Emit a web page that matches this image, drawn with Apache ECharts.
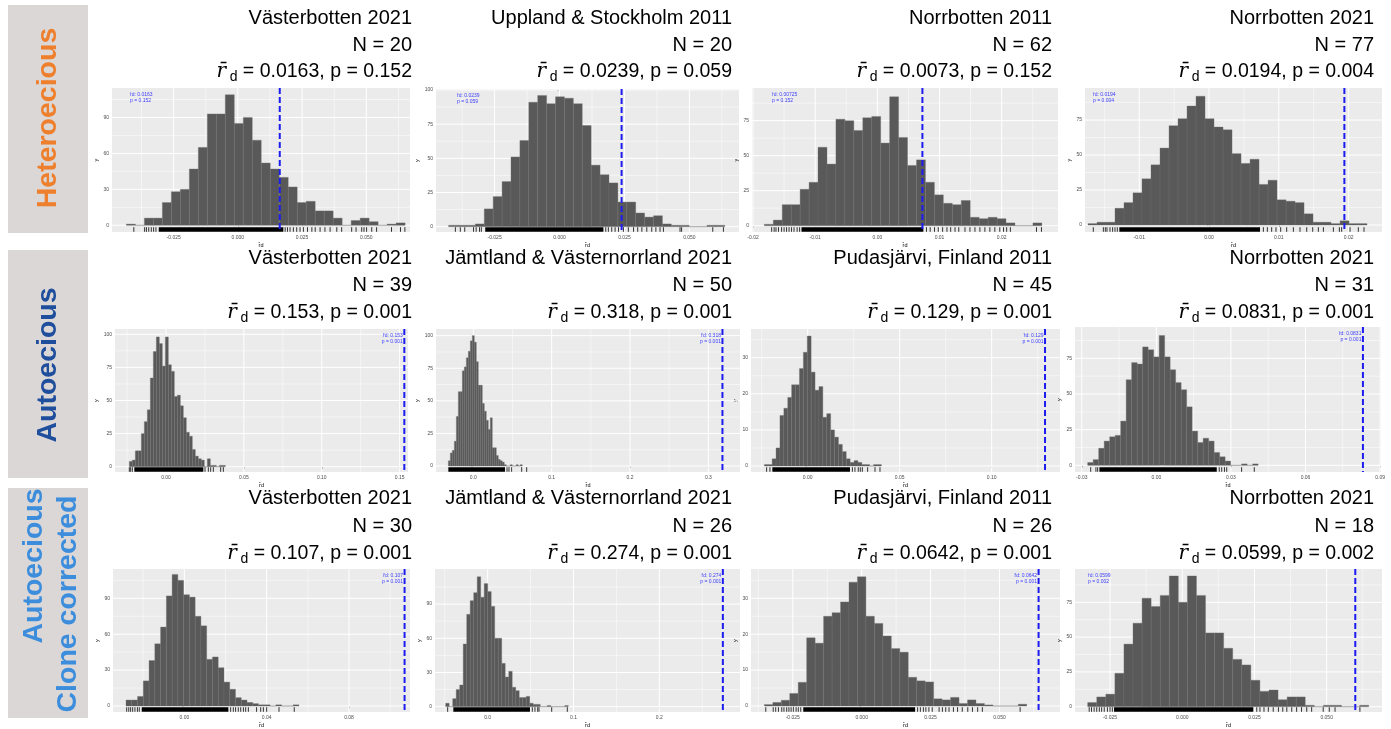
<!DOCTYPE html>
<html><head><meta charset="utf-8">
<script src="https://cdn.jsdelivr.net/npm/echarts@6/dist/echarts.min.js"></script>
<style>html,body{margin:0;padding:0;background:#fff}#c{width:1391px;height:729px}</style>
</head><body><div id="c"></div>
<script>
// ---------------- DATA ----------------
const rowLabels = ['Heteroecious', 'Autoecious', 'Autoecious', 'Clone corrected'];
const regions = ['Västerbotten 2021','Uppland & Stockholm 2011','Norrbotten 2011','Norrbotten 2021',
  'Västerbotten 2021','Jämtland & Västernorrland 2021','Pudasjärvi, Finland 2011','Norrbotten 2021',
  'Västerbotten 2021','Jämtland & Västernorrland 2021','Pudasjärvi, Finland 2011','Norrbotten 2021'];
const sampleN = [20,20,62,77,39,50,45,31,30,26,26,18];
const rdTitle = ['0.0163','0.0239','0.0073','0.0194','0.153','0.318','0.129','0.0831','0.107','0.274','0.0642','0.0599'];
const rdLabel = ['0.0163','0.0239','0.00725','0.0194','0.153','0.318','0.129','0.0831','0.107','0.274','0.0642','0.0599'];
const rdObserved = [0.0163,0.0239,0.00725,0.0194,0.153,0.318,0.129,0.0831,0.107,0.274,0.0642,0.0599];
const pValues = ['0.152','0.059','0.152','0.004','0.001','0.001','0.001','0.001','0.001','0.001','0.001','0.002'];

const binStart = [-0.0434,-0.0427,-0.01818,-0.01734,-0.02354,-0.0319,-0.02355,-0.02762,-0.02834,-0.0489,-0.03532,-0.03273];
const binWidth = [0.0035,0.00343,0.00144,0.00129,0.001926,0.00255,0.00212,0.002212,0.0028,0.00408,0.003072,0.003138];

const counts1 = [1,0,6,6,19,28,30,47,65,93,93,109,85,90,71,52,47,40,32,19,20,12,12,6,0,4,6,3,0,1,2];
const counts2 = [1,1,1,2,13,22,33,51,63,91,96,90,95,94,90,74,45,38,32,18,18,10,7,8,2,1,1,0,0,1,1];
const counts3 = [1,4,15,15,26,31,56,44,76,75,68,77,78,59,92,63,43,47,31,22,16,15,18,6,5,6,5,2,0,0,2];
const counts4 = [1,2,2,12,16,23,33,43,55,71,76,85,92,76,70,68,51,44,47,29,32,18,17,16,8,2,2,1,3,1,1];
const counts5 = [4,5,12,12,25,34,43,67,87,98,93,76,98,77,72,53,54,46,37,26,23,13,8,6,5,0,6,1,1,0,1,1];
const counts6 = [4,10,12,19,38,57,57,73,76,83,88,96,100,95,80,62,62,48,42,35,28,37,14,14,8,5,4,3,1,0,0,1,0,0,1,0,1];
const counts7 = [0.4,0.4,2,5,14,16,19,22.5,22.5,27,31.5,36,26,21,22,13.5,14.5,10,8,6,4,2,1,1.5,1,0.4,0.4,0,0.4,0.4];
const counts8 = [2,4,12,17,20,21,31,60,72,71,83,81,76,91,76,67,58,53,41,24,16,19,17,9,6,3,0,0,1,0,1];
const counts9 = [5,5,8,21,38,52,66,92,110,105,93,91,75,67,39,41,32,20,14,7,5,3,2,1,1,0,1,0,0,1];
const counts10 = [3,0,7,15,19,55,81,93,100,114,96,108,101,88,60,60,38,26,31,17,14,8,8,9,3,2,2,0,0,1,0,0,0,0,1];
const counts11 = [0.4,1,1.6,3.5,6.6,19,17.5,25,26,29,34.5,36,25,23,19.5,16,15,8,7,6.7,2,1.7,2.4,0.7,1.7,0.7,0.3,0,0,0,0.5];
const counts12 = [3,7,9,24,45,60,78,72,80,94,75,94,80,53,53,42,34,30,19,11,12,5,7,7,1,0,1,1,0,0,1];

// rug: sparse single values and dense [from, to] ranges
const rug1 = [-0.0405,-0.0363,-0.0356,-0.0347,-0.0337,-0.0328,-0.0319,0.0184,0.0193,0.0203,0.0216,0.0229,0.0242,0.0255,0.0271,0.0288,0.0301,0.032,0.0339,0.0359,0.0385,0.0404,0.0443,0.046,0.0482,0.0491,0.0501,0.0521,0.054,0.0598,0.0633,0.065];
const rug2 = [-0.0401,-0.0382,-0.0365,-0.0331,-0.0321,-0.0308,-0.0301,0.0178,0.0188,0.0201,0.0214,0.0227,0.0246,0.0265,0.0285,0.0301,0.0317,0.0336,0.0355,0.0371,0.0387,0.04,0.0464,0.047,0.059,0.0631];
const rug3 = [-0.017,-0.0166,-0.0163,-0.0159,-0.0154,-0.015,-0.0146,-0.0142,-0.0138,-0.0134,-0.0129,-0.0125,0.0079,0.0085,0.0092,0.0098,0.0105,0.0112,0.0118,0.0125,0.0131,0.0141,0.0149,0.0157,0.0165,0.0173,0.0181,0.0189,0.0197,0.0203,0.0208,0.0214,0.0256,0.0264];
const rug4 = [-0.01658,-0.01514,-0.01486,-0.01462,-0.01419,-0.01381,-0.01347,-0.01314,0.00779,0.00836,0.00898,0.0096,0.01027,0.01113,0.01209,0.01304,0.014,0.01486,0.01567,0.01639,0.01782,0.01868,0.01901,0.02021,0.0214,0.02221];
const rug5 = [-0.02354,-0.02268,-0.02161,0.02504,0.02718,0.02868,0.03039,0.0351,0.03681];
const rug6 = [0.043,0.0455,0.0489,0.0617,0.0681];
const rug7 = [-0.0223,-0.0205,0.0243,0.0257,0.0275,0.0286,0.0297,0.0326,0.0366,0.0393];
const rug8 = [-0.0264,-0.0243,-0.0236,0.0253,0.0263,0.0274,0.0283,0.0343,0.0394];
const rug9 = [-0.028,-0.027,-0.0261,-0.0251,-0.024,-0.0228,-0.0219,0.0225,0.0238,0.0249,0.0262,0.0274,0.0287,0.0298,0.0311,0.0351,0.0371,0.0384,0.04,0.046,0.0534];
const rug10 = [-0.0466,0.052,0.0551,0.0583,0.0598,0.0746,0.0928];
const rug11 = [-0.0348,-0.0321,-0.0312,-0.0302,-0.029,-0.0282,-0.0272,-0.0264,-0.0256,-0.0248,-0.0238,-0.023,-0.0221,0.0203,0.0213,0.0224,0.0233,0.0244,0.0256,0.0281,0.0293,0.0305,0.0317,0.0333,0.0348,0.0365,0.0385,0.0402,0.0421,0.0438,0.0575];
const rug12 = [-0.0322,-0.0314,-0.0305,-0.0296,-0.0287,-0.0279,-0.027,-0.0259,-0.025,-0.0242,0.0258,0.0269,0.0283,0.0298,0.0315,0.0333,0.0348,0.0362,0.0379,0.0396,0.0413,0.0431,0.0448,0.0488,0.0509,0.0529,0.0615];
const rugDense = [[-0.0308,0.0177],[-0.0286,0.0169],[-0.0122,0.0074],[-0.01285,0.00731],[-0.02033,0.02397],[-0.0319,0.0404],
  [-0.0192,0.023],[-0.0229,0.0243],[-0.0207,0.0214],[-0.04,0.0493],[-0.0212,0.0194],[-0.0236,0.0246]];

// tick labels
const xTicks = [[-0.025,0,0.025,0.05],[-0.025,0,0.025,0.05],[-0.02,-0.01,0,0.01,0.02],[-0.01,0,0.01,0.02],
  [0,0.05,0.1,0.15],[0,0.1,0.2,0.3],[0,0.05,0.1],[-0.03,0,0.03,0.06,0.09],
  [0,0.04,0.08],[0,0.1,0.2],[-0.025,0,0.025,0.05],[-0.025,0,0.025,0.05]];
const xDigits = [3,3,2,2,2,1,2,2,2,1,3,3];
const yTicks = [[0,30,60,90],[0,25,50,75,100],[0,25,50,75],[0,25,50,75],
  [0,25,50,75,100],[0,25,50,75,100],[0,10,20,30],[0,25,50,75],
  [0,30,60,90],[0,30,60,90],[0,10,20,30],[0,25,50,75]];

const countsList = [counts1,counts2,counts3,counts4,counts5,counts6,counts7,counts8,counts9,counts10,counts11,counts12];
const rugList = [rug1,rug2,rug3,rug4,rug5,rug6,rug7,rug8,rug9,rug10,rug11,rug12];

// ---------------- LAYOUT ----------------
const layout = [
 {l:112,r:410,t:88,b:232,x:[-0.0490,0.0670],y:[-5.6,114.6],anno:'left',ax:18},
 {l:436,r:739,t:89,b:232,x:[-0.04756,0.0691],y:[-3.9,100.7],anno:'left',ax:21},
 {l:752,r:1058,t:88,b:232,x:[-0.02016,0.02906],y:[-4.5,98.3],anno:'left',ax:20},
 {l:1085,r:1382,t:88,b:232,x:[-0.01777,0.02479],y:[-5.0,97.9],anno:'left',ax:8},
 {l:115,r:408,t:329,b:472,x:[-0.03274,0.15536],y:[-4.0,104.0],anno:'right'},
 {l:436,r:740,t:329,b:472,x:[-0.04766,0.3404],y:[-4.6,105.1],anno:'right'},
 {l:751,r:1060,t:329,b:472,x:[-0.0308,0.13714],y:[-1.66,37.95],anno:'right'},
 {l:1075,r:1381,t:327,b:472,x:[-0.03272,0.09037],y:[-4.67,96.96],anno:'right'},
 {l:113,r:410,t:569,b:712,x:[-0.03466,0.10964],y:[-5.0,114.5],anno:'right'},
 {l:435,r:740,t:569,b:712,x:[-0.06136,0.29398],y:[-4.7,120.8],anno:'right'},
 {l:751,r:1060,t:569,b:712,x:[-0.04016,0.07197],y:[-1.67,38.16],anno:'right'},
 {l:1075,r:1382,t:569,b:712,x:[-0.03712,0.06915],y:[-3.83,98.97],anno:'left',ax:13}
];
const titleRight = [412,732,1052,1374];
const titleY = [[18,45,72],[258,285,313],[498,526,554]];
const FONT = '"Liberation Sans", Arial, sans-serif';
const RFONT = '"DejaVu Serif", "DejaVu Sans", serif';

function minors(ticks, lo, hi) {
  const s = ticks[1] - ticks[0], out = [];
  for (let k = -30; k < 60; k++) { const v = ticks[0] + (k + 0.5) * s; if (v > lo && v < hi) out.push(v); }
  return out;
}

function gridRender(params, api) {
  const v = api.value(0), kind = api.value(1), cs = params.coordSys;
  let shape;
  if (kind < 2) { const x = api.coord([v, 0])[0]; shape = {x1:x, y1:cs.y, x2:x, y2:cs.y + cs.height}; }
  else { const y = api.coord([0, v])[1]; shape = {x1:cs.x, y1:y, x2:cs.x + cs.width, y2:y}; }
  return {type:'line', shape, silent:true, style:{stroke:'#ffffff', lineWidth:(kind % 2 === 0) ? 1 : 0.5}};
}
function barRender(params, api) {
  const p0 = api.coord([api.value(0), api.value(2)]);
  const p1 = api.coord([api.value(1), 0]);
  return {type:'rect', shape:{x:p0[0], y:p0[1], width:p1[0] - p0[0], height:p1[1] - p0[1]},
    style:{fill:'#595959', stroke:'#727272', lineWidth:0.35}};
}
function rugRender(params, api) {
  const cs = params.coordSys, yb = cs.y + cs.height;
  const a = api.coord([api.value(0), 0])[0], b = api.coord([api.value(1), 0])[0];
  if (b - a > 0.5) return {type:'rect', shape:{x:a, y:yb - 4.8, width:b - a, height:4.6}, style:{fill:'#000'}};
  return {type:'line', shape:{x1:a, y1:yb - 0.2, x2:a, y2:yb - 4.8}, style:{stroke:'#000', lineWidth:0.8}};
}
function makeVline(i) {
  return function (params, api) {
    const cs = params.coordSys, x = api.coord([api.value(0), 0])[0];
    const L = layout[i];
    const txt = 'r\u0304d: ' + rdLabel[i] + '\np = ' + pValues[i];
    const tx = L.anno === 'left' ? cs.x + L.ax : x - 1.5;
    return {type:'group', children:[
      {type:'line', shape:{x1:x, y1:cs.y, x2:x, y2:cs.y + cs.height},
        style:{stroke:'#1c1cf0', lineWidth:2, lineDash:[6,3]}},
      {type:'text', x:tx, y:cs.y + 4,
        style:{text:txt, fill:'#3c3cff', fontSize:5, lineHeight:6, fontFamily:FONT,
          align:L.anno === 'left' ? 'left' : 'right', verticalAlign:'top'}}
    ]};
  };
}

const option = {animation:false, backgroundColor:'#ffffff', grid:[], xAxis:[], yAxis:[], series:[], graphic:[]};

// row label boxes
const boxes = [[5,228],[250,228],[488,230]];
boxes.forEach(b => option.graphic.push({type:'rect', shape:{x:8, y:b[0], width:80, height:b[1]}, style:{fill:'#dbd7d7'}, z:0}));
const rowText = [
  {t:rowLabels[0], x:48, y:118, c:'#EE7F2D'},
  {t:rowLabels[1], x:48, y:365, c:'#1F4E9C'},
  {t:rowLabels[2], x:34, y:566, c:'#3C8DDC'},
  {t:rowLabels[3], x:68, y:604, c:'#3C8DDC'}
];
rowText.forEach(r => option.graphic.push({type:'text', x:r.x, y:r.y, rotation:Math.PI/2, z:5,
  style:{text:r.t, fill:r.c, fontSize:28.5, fontWeight:'bold', fontFamily:FONT, align:'center', verticalAlign:'middle'}}));

layout.forEach((L, i) => {
  const row = Math.floor(i / 4), col = i % 4;
  option.grid.push({left:L.l, top:L.t, width:L.r - L.l, height:L.b - L.t, show:true, backgroundColor:'#ebebeb', borderWidth:0});
  const xt = xTicks[i], yt = yTicks[i];
  option.xAxis.push({type:'value', gridIndex:i, min:L.x[0], max:L.x[1],
    axisLine:{show:false}, splitLine:{show:false},
    axisTick:{show:true, customValues:xt, length:2, lineStyle:{color:'#333', width:0.5}},
    axisLabel:{customValues:xt, formatter:(v) => Number(v).toFixed(xDigits[i]), fontSize:5, color:'#4d4d4d', margin:3, fontFamily:FONT},
    name:'r\u0304d', nameLocation:'middle', nameGap:10, nameTextStyle:{fontSize:5.5, color:'#000', fontFamily:FONT}});
  option.yAxis.push({type:'value', gridIndex:i, min:L.y[0], max:L.y[1],
    axisLine:{show:false}, splitLine:{show:false},
    axisTick:{show:true, customValues:yt, length:2, lineStyle:{color:'#333', width:0.5}},
    axisLabel:{customValues:yt, fontSize:5, color:'#4d4d4d', margin:3, fontFamily:FONT},
    name:'y', nameLocation:'middle', nameGap:12, nameRotate:90, nameTextStyle:{fontSize:5.5, color:'#000', fontFamily:FONT}});

  const gridData = [];
  xt.forEach(v => gridData.push([v, 0]));
  minors(xt, L.x[0], L.x[1]).forEach(v => gridData.push([v, 1]));
  yt.forEach(v => gridData.push([v, 2]));
  minors(yt, L.y[0], L.y[1]).forEach(v => gridData.push([v, 3]));
  option.series.push({type:'custom', xAxisIndex:i, yAxisIndex:i, z:1, silent:true, clip:true,
    renderItem:gridRender, encode:{x:0, y:1}, data:gridData});

  const bars = countsList[i].map((c, k) => [binStart[i] + k * binWidth[i], binStart[i] + (k + 1) * binWidth[i], c]);
  option.series.push({type:'custom', xAxisIndex:i, yAxisIndex:i, z:2, silent:true,
    renderItem:barRender, encode:{x:[0,1], y:2}, data:bars});

  const rugData = [rugDense[i]].concat(rugList[i].map(v => [v, v]));
  option.series.push({type:'custom', xAxisIndex:i, yAxisIndex:i, z:3, silent:true,
    renderItem:rugRender, encode:{x:[0,1]}, data:rugData});

  option.series.push({type:'custom', xAxisIndex:i, yAxisIndex:i, z:4, silent:true,
    renderItem:makeVline(i), encode:{x:0}, data:[[rdObserved[i]]]});

  // panel titles
  const rx = titleRight[col], ty = titleY[row];
  option.graphic.push({type:'text', x:rx, y:ty[0], z:5, style:{text:regions[i], fill:'#000', fontSize:20, fontFamily:FONT, align:'right', verticalAlign:'middle'}});
  option.graphic.push({type:'text', x:rx, y:ty[1], z:5, style:{text:'N = ' + sampleN[i], fill:'#000', fontSize:20, fontFamily:FONT, align:'right', verticalAlign:'middle'}});
  option.graphic.push({type:'text', x:rx, y:ty[2], z:5, style:{
    text:'{r|r\u0304}{s| }{d|d}{t| = ' + rdTitle[i] + ', p = ' + pValues[i] + '}',
    fill:'#000', fontSize:20, fontFamily:FONT, align:'right', verticalAlign:'middle',
    rich:{
      r:{fontSize:20, fontStyle:'italic', fontFamily:RFONT, lineHeight:24, fill:'#000'},
      s:{fontSize:13, fontFamily:FONT, lineHeight:24, fill:'#000'},
      d:{fontSize:14, fontFamily:FONT, lineHeight:14, verticalAlign:'bottom', fill:'#000'},
      t:{fontSize:19.5, fontFamily:FONT, lineHeight:24, fill:'#000'}
    }}});
});

const chart = echarts.init(document.getElementById('c'));
chart.setOption(option);
</script>
</body></html>
